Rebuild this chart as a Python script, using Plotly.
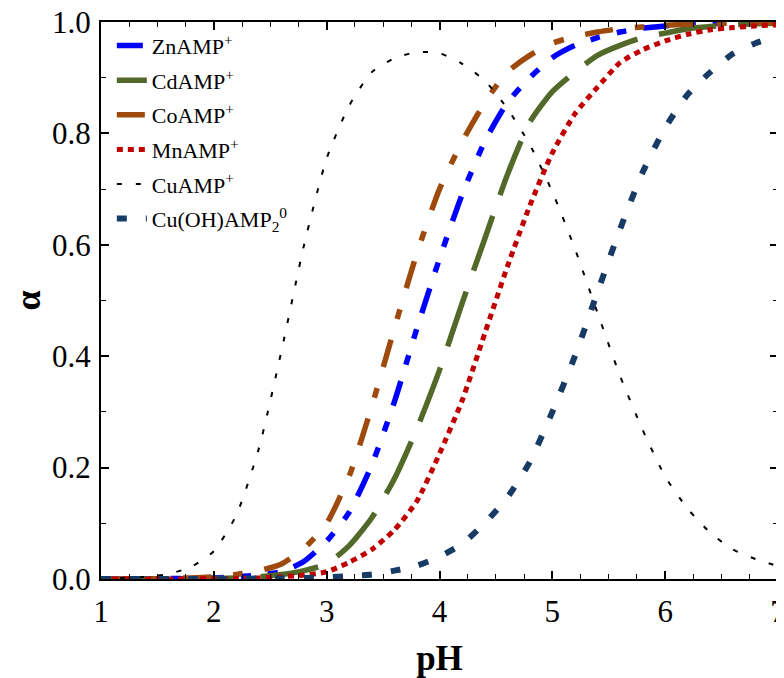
import plotly.graph_objects as go

pH = [1.0, 1.2, 1.4, 1.6, 1.8, 2.0, 2.2, 2.4, 2.6, 2.8, 3.0, 3.2, 3.4, 3.6, 3.8, 4.0,
      4.2, 4.4, 4.6, 4.8, 5.0, 5.2, 5.4, 5.6, 5.8, 6.0, 6.2, 6.4, 6.6, 6.8, 7.0]

zn_amp = [0.0, 0.0, 0.0, 0.001, 0.001, 0.002, 0.004, 0.007, 0.013, 0.032, 0.068, 0.12, 0.205,
          0.318, 0.45, 0.575, 0.69, 0.785, 0.855, 0.90, 0.936, 0.958, 0.972, 0.982, 0.989,
          0.993, 0.996, 0.997, 0.998, 0.999, 0.999]
cd_amp = [0.0, 0.0, 0.0, 0.0, 0.001, 0.001, 0.002, 0.004, 0.008, 0.015, 0.027, 0.06, 0.11,
          0.18, 0.27, 0.375, 0.495, 0.61, 0.725, 0.82, 0.875, 0.91, 0.94, 0.958, 0.972,
          0.98, 0.988, 0.992, 0.995, 0.997, 0.998]
co_amp = [0.0, 0.0, 0.0, 0.001, 0.002, 0.004, 0.008, 0.015, 0.027, 0.055, 0.10, 0.185, 0.31,
          0.45, 0.585, 0.70, 0.785, 0.855, 0.91, 0.94, 0.962, 0.974, 0.982, 0.988, 0.991,
          0.994, 0.996, 0.997, 0.998, 0.999, 0.999]
mn_amp = [0.0, 0.0, 0.0, 0.0, 0.0, 0.001, 0.001, 0.002, 0.004, 0.007, 0.013, 0.03, 0.053,
          0.088, 0.14, 0.225, 0.32, 0.44, 0.56, 0.67, 0.765, 0.835, 0.883, 0.927, 0.95,
          0.966, 0.978, 0.986, 0.99, 0.993, 0.995]
cu_amp = [0.001, 0.002, 0.004, 0.009, 0.022, 0.05, 0.115, 0.235, 0.41, 0.60, 0.755, 0.85, 0.91,
          0.935, 0.946, 0.944, 0.925, 0.895, 0.845, 0.78, 0.695, 0.593, 0.478, 0.365, 0.268,
          0.184, 0.126, 0.083, 0.053, 0.036, 0.023]
cuoh_amp2 = [0.0, 0.0, 0.0, 0.0, 0.0, 0.0, 0.0, 0.001, 0.001, 0.002, 0.003, 0.005, 0.008,
             0.015, 0.024, 0.04, 0.063, 0.10, 0.146, 0.21, 0.30, 0.40, 0.515, 0.628, 0.73,
             0.81, 0.87, 0.91, 0.943, 0.962, 0.975]

names = ["ZnAMP<sup>+</sup>", "CdAMP<sup>+</sup>", "CoAMP<sup>+</sup>", "MnAMP<sup>+</sup>",
         "CuAMP<sup>+</sup>", "Cu(OH)AMP<sub>2</sub><sup>0</sup>"]
series = [zn_amp, cd_amp, co_amp, mn_amp, cu_amp, cuoh_amp2]
colors = ["#0000FF", "#52692A", "#9E4A0C", "#C00000", "#000000", "#183B66"]
widths = [5.5, 5.5, 5.5, 5, 2, 6]
dashes = ["26px,17px,10px,17px,10px,17px", "58px,22px", "28px,22px,10px,22px",
          "6px,5px", "5px,14px", "10px,19px"]

fig = go.Figure()
for i, (nm, ys) in enumerate(zip(names, series)):
    fig.add_trace(go.Scatter(
        x=pH, y=ys, mode="lines", name=nm, legendgroup=str(i),
        line=dict(color=colors[i], width=widths[i], dash=dashes[i], shape="spline", smoothing=0.6),
    ))

font = "Liberation Serif"
axis_common = dict(
    showline=True, linecolor="black", linewidth=2, mirror="ticks",
    ticks="inside", ticklen=8, tickwidth=1.5, tickcolor="black",
    showgrid=False, zeroline=False, automargin=False, ticklabeloverflow="allow",
    tickfont=dict(family=font, size=31, color="black"),
)
fig.update_xaxes(
    range=[1, 7], dtick=1, tick0=1,
    minor=dict(dtick=0.25, ticks="inside", ticklen=5, tickwidth=1.2, tickcolor="black"),
    title=dict(text="<b>pH</b>", font=dict(family=font, size=35, color="black"), standoff=20),
    ticklabelstandoff=4,
    **axis_common,
)
fig.update_yaxes(
    range=[0, 1], dtick=0.2, tickformat=".1f",
    minor=dict(dtick=0.1, ticks="inside", ticklen=5, tickwidth=1.2, tickcolor="black"),
    title=dict(text="<b>α</b>", font=dict(family=font, size=36, color="black"), standoff=8),
    ticklabelstandoff=2,
    **axis_common,
)
fig.update_layout(
    width=776, height=670,
    margin=dict(l=93, r=6, t=14, b=99),
    plot_bgcolor="white", paper_bgcolor="white",
    legend=dict(x=0.016, y=0.995, xanchor="left", yanchor="top",
                bgcolor="rgba(0,0,0,0)", font=dict(family=font, size=22, color="black"),
                tracegroupgap=3, itemwidth=30),
    showlegend=True,
)
fig.write_html("out.html")
